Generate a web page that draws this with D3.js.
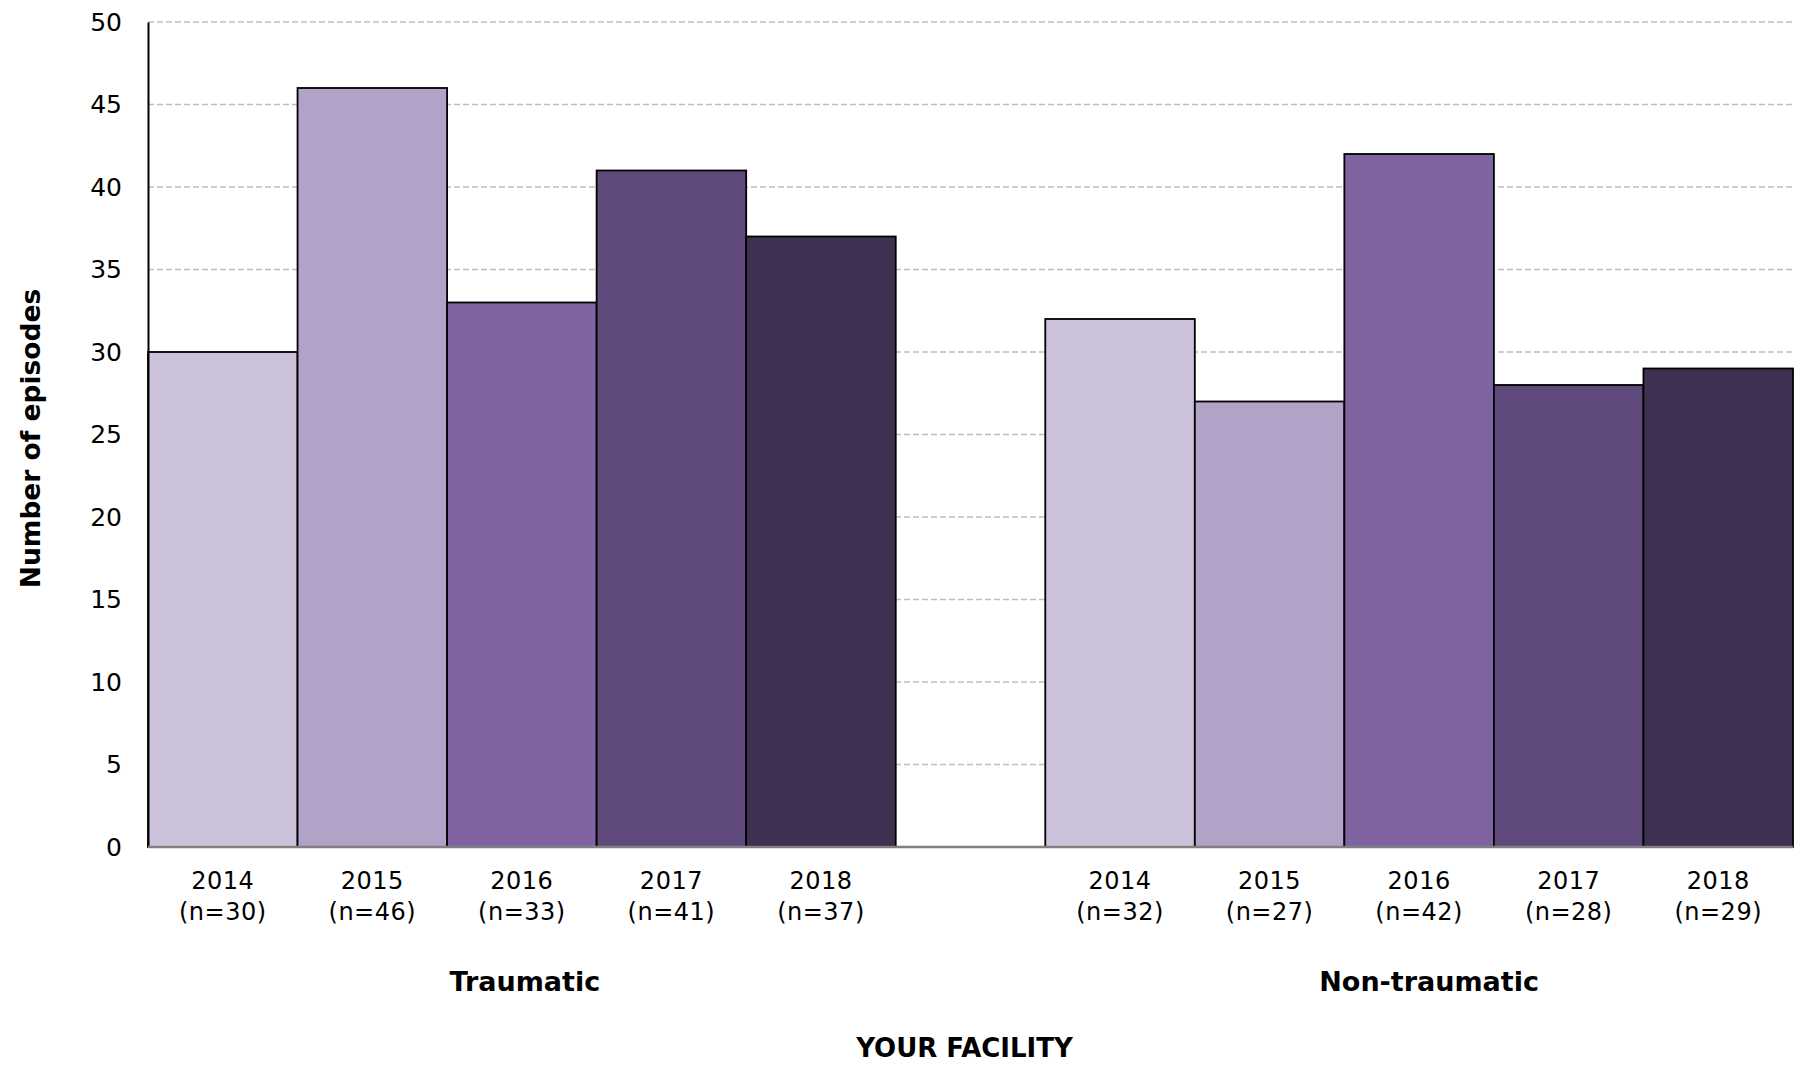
<!DOCTYPE html>
<html>
<head>
<meta charset="utf-8">
<script src="https://cdn.jsdelivr.net/npm/d3@7"></script>
<style>
  html, body { margin: 0; padding: 0; background: #fff; }
  svg { display: block; font-family: "DejaVu Sans", sans-serif; }
</style>
</head>
<body>
<svg id="chart" width="1806" height="1067"></svg>
<script>
// ---- data ----
const groups = ["Traumatic", "Non-traumatic"];
const years = ["2014", "2015", "2016", "2017", "2018"];
const traumatic = [30, 46, 33, 41, 37];
const nonTraumatic = [32, 27, 42, 28, 29];
const yTicks = [0, 5, 10, 15, 20, 25, 30, 35, 40, 45, 50];
const yearColors = ["#CCC1DA", "#B3A2C7", "#8064A2", "#604A7B", "#403152"];
const yTitle = "Number of episodes";
const xTitle = "YOUR FACILITY";

// ---- layout ----
const svg = d3.select("#chart");
const mLeft = 148, mRight = 1793, mTop = 22, mBottom = 847;
const groupLabelShift = [3, 10];

// slots: 5 bars, one empty slot, 5 bars
const slots = [];
years.forEach((yr, i) => slots.push({ key: "T" + i, group: 0, year: yr, value: traumatic[i], ci: i }));
slots.push({ key: "gap", group: -1 });
years.forEach((yr, i) => slots.push({ key: "N" + i, group: 1, year: yr, value: nonTraumatic[i], ci: i }));

const x = d3.scaleBand().domain(slots.map(d => d.key)).range([mLeft, mRight]).padding(0);
const y = d3.scaleLinear().domain([0, 50]).range([mBottom, mTop]);

// gridlines
svg.append("g").selectAll("line").data(yTicks.filter(t => t > 0)).join("line")
  .attr("x1", mLeft).attr("x2", mRight)
  .attr("y1", d => y(d)).attr("y2", d => y(d))
  .attr("stroke", "#BFBFBF").attr("stroke-width", 1.5)
  .attr("stroke-dasharray", "6,3");

// bars
const bars = slots.filter(d => d.group >= 0);
svg.append("g").selectAll("rect").data(bars).join("rect")
  .attr("x", d => x(d.key)).attr("width", x.bandwidth())
  .attr("y", d => y(d.value)).attr("height", d => y(0) - y(d.value))
  .attr("fill", d => yearColors[d.ci])
  .attr("stroke", "#000").attr("stroke-width", 1.8);

// y axis
const yAxis = d3.axisLeft(y).tickValues(yTicks).tickSize(0).tickPadding(26);
const gy = svg.append("g").attr("transform", `translate(${mLeft},0)`).call(yAxis);
gy.select(".domain").attr("stroke", "#000").attr("stroke-width", 2);
gy.selectAll("text").attr("font-size", 25).attr("font-family", "DejaVu Sans, sans-serif").attr("fill", "#000");

// x axis line
svg.append("line").attr("x1", mLeft).attr("x2", mRight)
  .attr("y1", y(0)).attr("y2", y(0))
  .attr("stroke", "#808080").attr("stroke-width", 2.5);

// year labels
const lab = svg.append("g").selectAll("text").data(bars).join("text")
  .attr("text-anchor", "middle").attr("font-size", 24).attr("fill", "#000")
  .attr("letter-spacing", 0.5);
lab.append("tspan").attr("x", d => x(d.key) + x.bandwidth() / 2).attr("y", 889).text(d => d.year);
lab.append("tspan").attr("x", d => x(d.key) + x.bandwidth() / 2).attr("y", 920).text(d => `(n=${d.value})`);

// group labels
groups.forEach((g, gi) => {
  const gb = bars.filter(d => d.group === gi);
  const x0 = x(gb[0].key), x1 = x(gb[gb.length - 1].key) + x.bandwidth();
  svg.append("text").attr("x", (x0 + x1) / 2 + groupLabelShift[gi]).attr("y", 991)
    .attr("text-anchor", "middle").attr("font-size", 27).attr("font-weight", "bold")
    .text(g);
});

// axis titles
svg.append("text").attr("x", (mLeft + mRight) / 2 - 6).attr("y", 1057)
  .attr("text-anchor", "middle").attr("font-size", 26).attr("font-weight", "bold")
  .text(xTitle);
svg.append("text").attr("transform", `translate(40,${(mTop + mBottom) / 2 + 4}) rotate(-90)`)
  .attr("text-anchor", "middle").attr("font-size", 26.5).attr("font-weight", "bold")
  .text(yTitle);
</script>
</body>
</html>
